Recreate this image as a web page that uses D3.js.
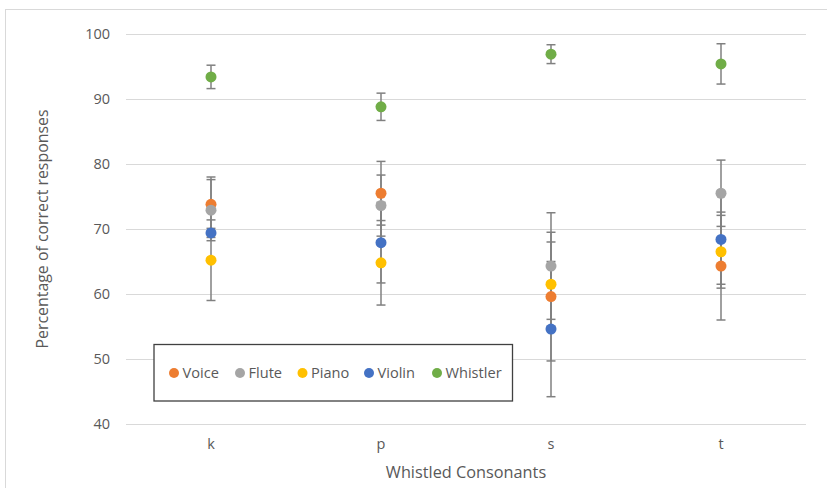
<!DOCTYPE html>
<html>
<head>
<meta charset="utf-8">
<script src="https://cdn.jsdelivr.net/npm/d3@7"></script>
<style>
  body { margin: 0; background: #fff; }
  text { font-family: "Open Sans", sans-serif; fill: #595959; }
</style>
</head>
<body>
<div id="chart"></div>
<script>
// values
const consonants = ["k", "p", "s", "t"];
const seriesNames = ["Voice", "Flute", "Piano", "Violin", "Whistler"];
const seriesColors = ["#ED7D31", "#A5A5A5", "#FFC000", "#4472C4", "#70AD47"];

const voiceMeans = [73.8, 75.5, 59.6, 64.3];
const voiceErr = [4.2, 4.9, 9.9, 8.3];
const fluteMeans = [72.9, 73.6, 64.3, 75.5];
const fluteErr = [4.7, 4.7, 8.2, 5.1];
const pianoMeans = [65.2, 64.8, 61.5, 66.5];
const pianoErr = [6.2, 6.5, 6.5, 5.6];
const violinMeans = [69.4, 67.9, 54.6, 68.4];
const violinErr = [0.7, 6.2, 10.4, 6.9];
const whistlerMeans = [93.4, 88.8, 96.9, 95.4];
const whistlerErr = [1.8, 2.1, 1.45, 3.1];

const yTicks = [40, 50, 60, 70, 80, 90, 100];

const allMeans = [voiceMeans, fluteMeans, pianoMeans, violinMeans, whistlerMeans];
const allErr = [voiceErr, fluteErr, pianoErr, violinErr, whistlerErr];

class ErrorPlot {
    constructor() {
        this.width = 827;
        this.height = 488;
        this.left = 126;
        this.right = 806;
        this.top = 34;
        this.bottom = 424;

        this.points = [];
        for (let s = 0; s < seriesNames.length; s++) {
            for (let i = 0; i < consonants.length; i++) {
                this.points.push({
                    series: seriesNames[s],
                    color: seriesColors[s],
                    cons: consonants[i],
                    mean: allMeans[s][i],
                    err: allErr[s][i]
                });
            }
        }

        this.scaleX = d3.scaleBand()
            .domain(consonants)
            .range([this.left, this.right]);
        this.scaleY = d3.scaleLinear()
            .domain([40, 100])
            .range([this.bottom, this.top]);
    }

    draw() {
        let svg = d3.select("#chart").append("svg")
            .attr("width", this.width).attr("height", this.height);
        this.svg = svg;

        // chart frame
        svg.append("rect")
            .attr("x", 5.5).attr("y", 9.5)
            .attr("width", 840).attr("height", 500)
            .attr("fill", "none").attr("stroke", "#d9d9d9");

        this.drawAxes();
        this.drawErrors();
        this.drawPoints();
        this.drawLegend();
    }

    drawAxes() {
        let yAxis = d3.axisLeft(this.scaleY)
            .tickValues(yTicks)
            .tickSize(-(this.right - this.left))
            .tickPadding(16);
        let g = this.svg.append("g")
            .attr("transform", `translate(${this.left},0)`)
            .call(yAxis);
        g.select(".domain").remove();
        g.selectAll(".tick line").attr("stroke", "#d9d9d9").attr("stroke-width", 1);
        g.selectAll(".tick text").style("font-size", "14.5px").attr("fill", "#595959");

        let xAxis = d3.axisBottom(this.scaleX).tickSize(0).tickPadding(15);
        let gx = this.svg.append("g")
            .attr("transform", `translate(0,${this.bottom})`)
            .call(xAxis);
        gx.select(".domain").remove();
        gx.selectAll(".tick text").style("font-size", "14.5px").attr("fill", "#595959");

        this.svg.append("text")
            .attr("x", 466).attr("y", 478)
            .attr("text-anchor", "middle")
            .style("font-size", "16.3px")
            .text("Whistled Consonants");

        this.svg.append("text")
            .attr("transform", `translate(48,${(this.top + this.bottom) / 2}) rotate(-90)`)
            .attr("text-anchor", "middle")
            .style("font-size", "15.9px")
            .text("Percentage of correct responses");
    }

    drawErrors() {
        let cx = d => this.scaleX(d.cons) + this.scaleX.bandwidth() / 2;
        let g = this.svg.append("g").attr("stroke", "#808080").attr("stroke-width", 1.5);
        g.selectAll("line.bar").data(this.points).join("line")
            .attr("class", "bar")
            .attr("x1", cx).attr("x2", cx)
            .attr("y1", d => this.scaleY(d.mean + d.err))
            .attr("y2", d => this.scaleY(d.mean - d.err));
        g.selectAll("line.capHi").data(this.points).join("line")
            .attr("class", "capHi")
            .attr("x1", d => cx(d) - 4.5).attr("x2", d => cx(d) + 4.5)
            .attr("y1", d => this.scaleY(d.mean + d.err))
            .attr("y2", d => this.scaleY(d.mean + d.err));
        g.selectAll("line.capLo").data(this.points).join("line")
            .attr("class", "capLo")
            .attr("x1", d => cx(d) - 4.5).attr("x2", d => cx(d) + 4.5)
            .attr("y1", d => this.scaleY(d.mean - d.err))
            .attr("y2", d => this.scaleY(d.mean - d.err));
    }

    drawPoints() {
        this.svg.append("g").selectAll("circle").data(this.points)
            .join("circle")
            .attr("r", 5.5)
            .attr("fill", d => d.color)
            .attr("cx", d => this.scaleX(d.cons) + this.scaleX.bandwidth() / 2)
            .attr("cy", d => this.scaleY(d.mean));
    }

    drawLegend() {
        let g = this.svg.append("g");
        g.append("rect")
            .attr("x", 154).attr("y", 344.5)
            .attr("width", 358.5).attr("height", 56.5)
            .attr("fill", "#fff").attr("stroke", "#404040").attr("stroke-width", 1.3);
        const markerX = [174, 240, 302.5, 369, 437];
        let items = g.selectAll("g.item").data(seriesNames).join("g")
            .attr("class", "item")
            .attr("transform", (d, i) => `translate(${markerX[i]},373)`);
        items.append("circle")
            .attr("r", 5)
            .attr("fill", (d, i) => seriesColors[i]);
        items.append("text")
            .attr("x", 8.5).attr("dy", "0.35em")
            .style("font-size", "14.6px")
            .text(d => d);
    }
}

let plot = new ErrorPlot();
plot.draw();
</script>
</body>
</html>
